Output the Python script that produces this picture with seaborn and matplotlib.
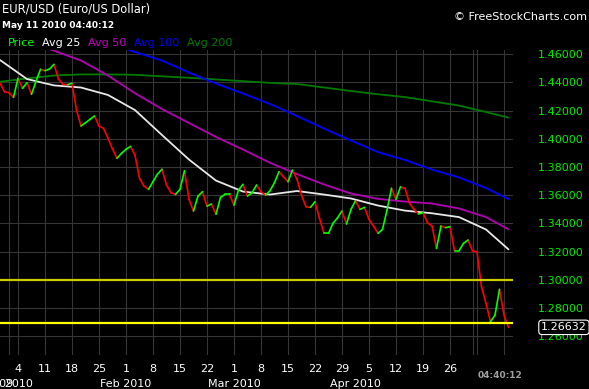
import pandas as pd
import numpy as np
import matplotlib
matplotlib.use("Agg")
import matplotlib.pyplot as plt
import matplotlib.transforms as mtransforms
import seaborn as sns

# EUR/USD daily bars (6 bars per week, Sunday session included), Jan 1 - May 11 2010
price = [
    1.4394, 1.4334, 1.4327, 1.4294, 1.4429, 1.4358, 1.4398, 1.4316, 1.4408, 1.4493,
    1.4483, 1.4495, 1.4528, 1.4422, 1.4387, 1.4384, 1.4394, 1.4204, 1.4091, 1.4114,
    1.4138, 1.4162, 1.4091, 1.4074, 1.4004, 1.3928, 1.3862, 1.3897, 1.3926, 1.3946,
    1.3885, 1.3720, 1.3665, 1.3642, 1.3696, 1.3750, 1.3784, 1.3672, 1.3618, 1.3606,
    1.3642, 1.3774, 1.3571, 1.3488, 1.3594, 1.3625, 1.3523, 1.3538, 1.3465, 1.3585,
    1.3606, 1.3606, 1.3530, 1.3637, 1.3677, 1.3594, 1.3617, 1.3672, 1.3625, 1.3601,
    1.3632, 1.3689, 1.3767, 1.3731, 1.3696, 1.3779, 1.3713, 1.3601, 1.3518, 1.3514,
    1.3554, 1.3436, 1.3330, 1.3330, 1.3401, 1.3440, 1.3488, 1.3396, 1.3500, 1.3561,
    1.3500, 1.3514, 1.3429, 1.3382, 1.3330, 1.3358, 1.3495, 1.3649, 1.3571, 1.3660,
    1.3649, 1.3543, 1.3500, 1.3467, 1.3476, 1.3405, 1.3382, 1.3223, 1.3382, 1.3370,
    1.3377, 1.3206, 1.3206, 1.3259, 1.3282, 1.3206, 1.3199, 1.2951, 1.2833, 1.2703,
    1.2750, 1.2933, 1.2750, 1.26632,
]

# moving averages read at every 6th bar (plus last bar)
ma_bars = [0, 6, 12, 18, 24, 30, 36, 42, 48, 54, 60, 66, 72, 78, 84, 90, 96, 102, 108, 113]
avg25 = [1.4559, 1.4424, 1.4379, 1.4364, 1.4311, 1.4204, 1.4027, 1.3853, 1.3704, 1.3626,
         1.3605, 1.3630, 1.3605, 1.3577, 1.3527, 1.3491, 1.3472, 1.3445, 1.3357, 1.3216]
avg50 = [1.4780, 1.4690, 1.4625, 1.4555, 1.4449, 1.4323, 1.4211, 1.4112, 1.4013, 1.3924,
         1.3830, 1.3750, 1.3676, 1.3612, 1.3574, 1.3555, 1.3541, 1.3506, 1.3445, 1.3358]
avg100 = [1.4940, 1.4870, 1.4807, 1.4743, 1.4680, 1.4616, 1.4555, 1.4470, 1.4392, 1.4321,
          1.4247, 1.4162, 1.4073, 1.3988, 1.3906, 1.3850, 1.3782, 1.3726, 1.3651, 1.3573]
avg200 = [1.4405, 1.4428, 1.4449, 1.4457, 1.4457, 1.4454, 1.4443, 1.4433, 1.4421, 1.4409,
          1.4397, 1.4389, 1.4364, 1.4339, 1.4316, 1.4296, 1.4266, 1.4236, 1.4190, 1.4150]

levels = [1.30, 1.2695]
last_price = "1.26632"

week_ticks = [4, 10, 16, 22, 28, 34, 40, 46, 52, 58, 64, 70, 76, 82, 88, 94, 100, 106, 112]
week_labels = ["4", "11", "18", "25", "1", "8", "15", "22", "1", "8", "15", "22", "29",
               "5", "12", "19", "26", "", ""]
month_lines = [2, 105]
month_pos = [-3, 2, 28, 52, 79]
month_labels = ["Dec 2009", "Jan 2010", "Feb 2010", "Mar 2010", "Apr 2010"]
y_ticks = [1.26, 1.28, 1.30, 1.32, 1.34, 1.36, 1.38, 1.40, 1.42, 1.44, 1.46]

W, H = 589, 389
sns.set_theme(style="dark", rc={"axes.facecolor": "black", "figure.facecolor": "black",
                                "grid.color": "#363636", "grid.linewidth": 0.8})
plt.rcParams["font.family"] = ["DejaVu Sans"]

fig = plt.figure(figsize=(W / 100, H / 100), dpi=100)
ax = fig.add_axes([0, 34 / H, 513 / W, 305 / H])

# moving averages
ma_df = pd.concat([
    pd.DataFrame({"bar": ma_bars, "value": v, "series": name})
    for name, v in [("Avg 200", avg200), ("Avg 100", avg100), ("Avg 50", avg50), ("Avg 25", avg25)]
])
ma_colors = {"Avg 200": "#007a00", "Avg 100": "#0000ff", "Avg 50": "#b400b4", "Avg 25": "#e8e8e8"}
sns.lineplot(data=ma_df, x="bar", y="value", hue="series", palette=ma_colors,
             estimator=None, legend=False, linewidth=1.3, ax=ax)

# price, green when rising, red when falling
rows = []
for i in range(len(price) - 1):
    d = "up" if price[i + 1] >= price[i] else "down"
    rows.append((i, d, i, price[i]))
    rows.append((i, d, i + 1, price[i + 1]))
seg_df = pd.DataFrame(rows, columns=["seg", "dir", "bar", "value"])
sns.lineplot(data=seg_df, x="bar", y="value", hue="dir", units="seg", estimator=None,
             palette={"up": "#00ff00", "down": "#ff0000"}, legend=False,
             linewidth=1.2, sort=False, ax=ax)

ax.axhline(levels[0], color="#cccc00", lw=1.6, zorder=4)
ax.axhline(levels[1], color="#ffff00", lw=1.6, zorder=4)

ax.set_xlim(0, 114)
ax.set_ylim(1.2467, 1.4630)
ax.set_xlabel("")
ax.set_ylabel("")
for s in ax.spines.values():
    s.set_visible(False)

ax.set_xticks(week_ticks)
ax.set_xticklabels(week_labels)
ax.set_xticks(month_lines, minor=True)
ax.grid(True, which="both", axis="x", color="#363636", lw=0.8)
ax.grid(True, which="major", axis="y", color="#363636", lw=0.8)
ax.tick_params(axis="x", which="both", length=0, pad=6.5, labelsize=8, labelcolor="white")

ax.yaxis.tick_right()
ax.set_yticks(y_ticks)
ax.set_yticklabels([f"{v:.5f}" for v in y_ticks])
ax.tick_params(axis="y", length=0, pad=18, labelsize=8, labelcolor="#00ee00")

trans = mtransforms.blended_transform_factory(ax.transData, ax.transAxes)
for p, lab in zip(month_pos, month_labels):
    ax.text(p, -0.094, lab, transform=trans, ha="center", va="center",
            color="white", fontsize=8, clip_on=False)

trans_y = mtransforms.blended_transform_factory(ax.transAxes, ax.transData)
ax.text(541 / 513, float(last_price), last_price, transform=trans_y, ha="left", va="center",
        color="white", fontsize=8, clip_on=False, zorder=10,
        bbox=dict(boxstyle="round,pad=0.2,rounding_size=0.3", fc="black", ec="white", lw=0.8))

# header texts
fig.text(2 / W, 1 - 9 / H, "EUR/USD (Euro/US Dollar)", color="white", fontsize=8.3, va="center")
fig.text(2 / W, 1 - 25 / H, "May 11 2010 04:40:12", color="white", fontsize=6.5,
         fontweight="bold", va="center")
fig.text(587 / W, 1 - 17 / H, "\u00a9 FreeStockCharts.com", color="white", fontsize=8,
         ha="right", va="center")
legend_items = [("Price", "#00ff00", 8), ("Avg 25", "white", 42), ("Avg 50", "#c000c0", 88),
                ("Avg 100", "#0000ff", 134), ("Avg 200", "#007a00", 187)]
for lab, col, px in legend_items:
    fig.text(px / W, 1 - 43 / H, lab, color=col, fontsize=8, va="center")
fig.text(500 / W, 1 - 375 / H, "04:40:12", color="#a0a0a0", fontsize=6.5,
         fontweight="bold", ha="center", va="center")

fig.savefig("out.png", dpi=100, facecolor="black")
